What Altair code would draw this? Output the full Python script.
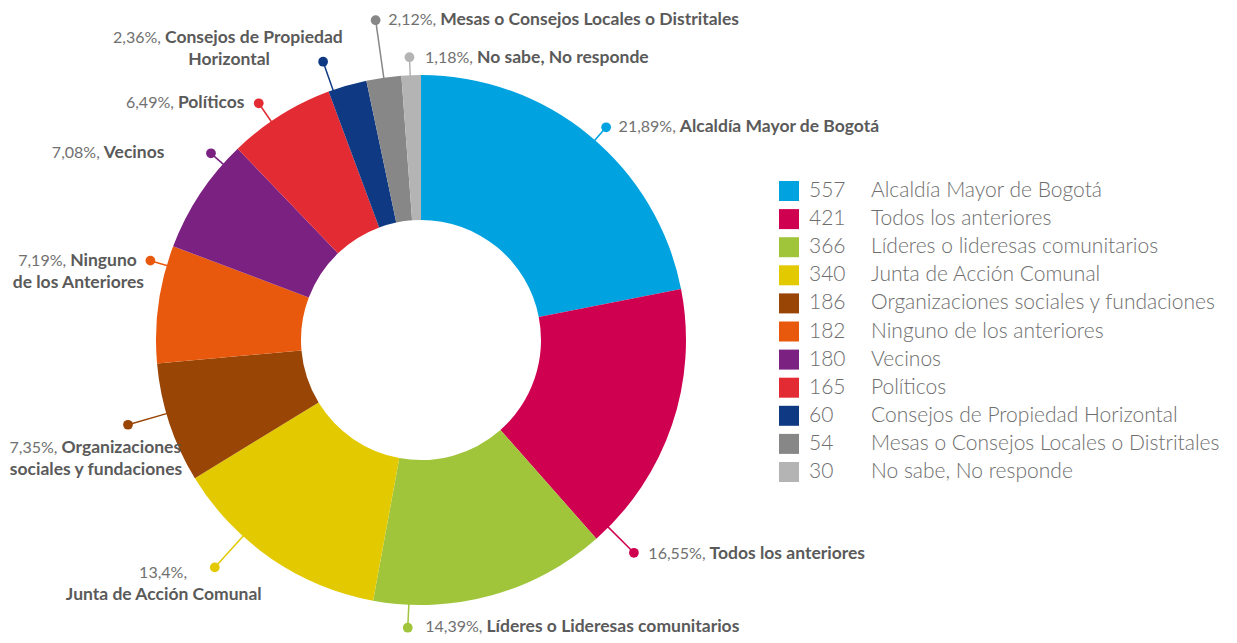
import altair as alt
import pandas as pd

# ---------------- data ----------------
categories = [
    "Alcaldía Mayor de Bogotá", "Todos los anteriores", "Líderes o lideresas comunitarios",
    "Junta de Acción Comunal", "Organizaciones sociales y fundaciones", "Ninguno de los anteriores",
    "Vecinos", "Políticos", "Consejos de Propiedad Horizontal",
    "Mesas o Consejos Locales o Distritales", "No sabe, No responde",
]
counts = [557, 421, 366, 340, 186, 182, 180, 165, 60, 54, 30]
pct_labels = ["21,89%,", "16,55%,", "14,39%,", "13,4%,", "7,35%,", "7,19%,",
              "7,08%,", "6,49%,", "2,36%,", "2,12%,", "1,18%,"]
label_line1 = ["Alcaldía Mayor de Bogotá", "Todos los anteriores", "Líderes o Lideresas comunitarios",
               "", "Organizaciones", "Ninguno", "Vecinos", "Políticos",
               "Consejos de Propiedad", "Mesas o Consejos Locales o Distritales", "No sabe, No responde"]
label_line2 = ["", "", "", "Junta de Acción Comunal", "sociales y fundaciones", "de los Anteriores",
               "", "", "Horizontal", "", ""]
colors = ["#00A3E0", "#CF004F", "#A0C53B", "#E3C900", "#984506", "#E8590E",
          "#7A2181", "#E32B33", "#0F3A83", "#878787", "#B4B4B4"]

# ---------------- layout (annotation placement) ----------------
anchor_frac = [0.52, 0.94, 0.85, 0.66, 0.58, 0.83, 0.82, 0.40, 0.12, 0.5, 0.45]
dot_radius = [282, 301, 288, 307, 305, 282, 281, 287, 295, 323, 283]
text_mode = ["L", "L", "L", "C", "C", "C", "R", "R", "C", "L", "L"]
text_dx = [14, 16, 19, -51, -32, -72, -46, -16, -94, 14, 17]
text_dy = [0, 1, -1, 6, 23, 0, 0, 0, -24, 0, 1]

CX, CY = 413, 332
R_OUT, R_IN = 265, 120
FONT = "Lato"
PCT_SIZE = 16
NAME_SIZE = 17.5
LEG_SIZE = 21
GAP = 4
LINE_H = 22

W = {}
W.update({"a": 0.50, "b": 0.55, "c": 0.45, "d": 0.55, "e": 0.51, "f": 0.31, "g": 0.50, "h": 0.55,
          "i": 0.23, "í": 0.23, "j": 0.23, "k": 0.48, "l": 0.23, "m": 0.82, "n": 0.55, "o": 0.54,
          "ó": 0.54, "á": 0.50, "p": 0.55, "q": 0.55, "r": 0.35, "s": 0.41, "t": 0.33, "u": 0.55,
          "v": 0.47, "w": 0.72, "x": 0.46, "y": 0.47, "z": 0.43, " ": 0.25, ",": 0.22, "%": 0.76,
          "A": 0.65, "B": 0.61, "C": 0.63, "D": 0.71, "H": 0.72, "J": 0.37, "L": 0.48, "M": 0.86,
          "N": 0.73, "O": 0.76, "P": 0.57, "T": 0.55, "V": 0.64})
for d in "0123456789":
    W[d] = 0.57


def est_width(text, size, bold=False):
    return sum(W.get(c, 0.52) for c in text) * size * (1.05 if bold else 1.0)


df = pd.DataFrame({
    "idx": list(range(len(categories))),
    "name": categories,
    "value": counts,
    "pct": pct_labels,
    "l1": label_line1,
    "l2": label_line2,
    "frac": anchor_frac,
    "rdot": dot_radius,
    "mode": text_mode,
    "tdx": text_dx,
    "tdy": text_dy,
})
df["w_pct"] = [est_width(t, PCT_SIZE) for t in pct_labels]
df["w_name"] = [est_width(t, NAME_SIZE, True) for t in label_line1]

color_scale = alt.Scale(domain=categories, range=colors)

base = alt.Chart(df)

arcs = base.mark_arc(innerRadius=R_IN, outerRadius=R_OUT).encode(
    theta=alt.Theta("value:Q", stack=True),
    color=alt.Color("name:N", scale=color_scale, legend=None),
    order=alt.Order("idx:Q"),
    x=alt.value(CX),
    y=alt.value(CY),
)

geo = base.transform_window(
    cum="sum(value)", sort=[alt.SortField("idx")], frame=[None, 0]
).transform_joinaggregate(
    total="sum(value)"
).transform_calculate(
    ang="(datum.cum - datum.value + datum.frac * datum.value) / datum.total * 2 * PI"
).transform_calculate(
    ex=f"{CX} + {R_OUT - 1} * sin(datum.ang)",
    ey=f"{CY} - {R_OUT - 1} * cos(datum.ang)",
    px=f"{CX} + datum.rdot * sin(datum.ang)",
    py=f"{CY} - datum.rdot * cos(datum.ang)",
).transform_calculate(
    ax="datum.px + datum.tdx",
    ay="datum.py + datum.tdy",
).transform_calculate(
    J=(f"datum.mode == 'L' ? datum.ax + datum.w_pct : "
       f"(datum.mode == 'R' ? datum.ax - datum.w_name - {GAP} : "
       f"datum.ax - (datum.w_pct + (datum.w_name > 0 ? {GAP} + datum.w_name : 0)) / 2 + datum.w_pct)"),
    l2y=f"datum.ay + {LINE_H}",
).transform_calculate(
    nx=f"datum.J + {GAP}",
)

leaders = geo.mark_rule(strokeWidth=1.5).encode(
    x=alt.X("ex:Q", scale=None, axis=None),
    y=alt.Y("ey:Q", scale=None, axis=None),
    x2="px:Q",
    y2="py:Q",
    color=alt.Color("name:N", scale=color_scale, legend=None),
)

dots = geo.mark_circle(size=95, opacity=1).encode(
    x=alt.X("px:Q", scale=None, axis=None),
    y=alt.Y("py:Q", scale=None, axis=None),
    color=alt.Color("name:N", scale=color_scale, legend=None),
)

pct_text = geo.mark_text(align="right", baseline="middle", font=FONT, fontSize=PCT_SIZE,
                         color="#707070", fontWeight="normal").encode(
    x=alt.X("J:Q", scale=None, axis=None),
    y=alt.Y("ay:Q", scale=None, axis=None),
    text="pct:N",
)

name_text = geo.mark_text(align="left", baseline="middle", font=FONT, fontSize=NAME_SIZE,
                          color="#5A5A5A", fontWeight="bold").encode(
    x=alt.X("nx:Q", scale=None, axis=None),
    y=alt.Y("ay:Q", scale=None, axis=None),
    text="l1:N",
)

line2_text = geo.mark_text(align="center", baseline="middle", font=FONT, fontSize=NAME_SIZE,
                           color="#5A5A5A", fontWeight="bold").encode(
    x=alt.X("ax:Q", scale=None, axis=None),
    y=alt.Y("l2y:Q", scale=None, axis=None),
    text="l2:N",
)

# ---------------- custom legend ----------------
LEG_X, LEG_Y0, LEG_STEP = 781, 183, 28.1
leg = base.transform_calculate(
    ly=f"{LEG_Y0} + datum.idx * {LEG_STEP}",
    sx=f"{LEG_X}",
    nxl=f"{LEG_X + 20}",
    tx=f"{LEG_X + 82}",
    vs="'' + datum.value",
)

leg_sq = leg.mark_square(size=400, opacity=1).encode(
    x=alt.X("sx:Q", scale=None, axis=None),
    y=alt.Y("ly:Q", scale=None, axis=None),
    color=alt.Color("name:N", scale=color_scale, legend=None),
)
leg_num = leg.mark_text(align="left", baseline="middle", font=FONT, fontSize=LEG_SIZE,
                        color="#6E6E6E", fontWeight=300).encode(
    x=alt.X("nxl:Q", scale=None, axis=None),
    y=alt.Y("ly:Q", scale=None, axis=None),
    text="vs:N",
)
leg_txt = leg.mark_text(align="left", baseline="middle", font=FONT, fontSize=LEG_SIZE,
                        color="#6E6E6E", fontWeight=300).encode(
    x=alt.X("tx:Q", scale=None, axis=None),
    y=alt.Y("ly:Q", scale=None, axis=None),
    text="name:N",
)

chart = alt.layer(
    arcs, leaders, dots, pct_text, name_text, line2_text, leg_sq, leg_num, leg_txt
).properties(
    width=1221, height=627, padding=0,
    autosize=alt.AutoSizeParams(type="none"),
).configure_view(stroke=None)

chart.save("out.html", embed_options={"renderer": "svg", "actions": False})
